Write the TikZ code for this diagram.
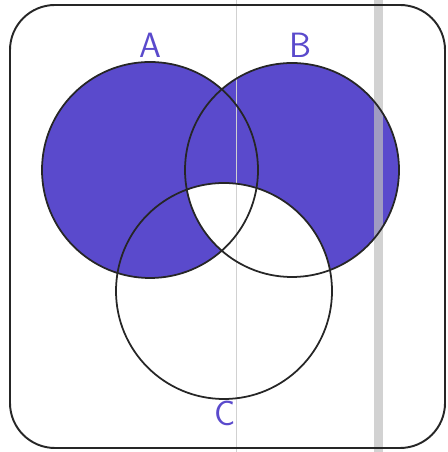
\documentclass[tikz,border=0pt]{standalone}
\usepackage{xcolor}
\usepackage{tikz}
\usetikzlibrary{positioning}

\definecolor{marker}{RGB}{90,74,204}

\begin{document}
\begin{tikzpicture}[x=0.02cm, y=0.02cm,
    setline/.style={black!85, line width=1pt},
    setlabel/.style={text=marker, font=\fontsize{20}{24}\selectfont\sffamily},
    paperline/.style={black!18, line width=0.5pt}]
  \useasboundingbox (0,0) rectangle (447,452);

  % Shading: A and B, without the part of B inside C
  \fill[marker] (150,282) circle (108);
  \fill[marker] (292,282) circle (107);
  \begin{scope}
    \clip (292,282) circle (107);
    \fill[white] (224,161) circle (108);
  \end{scope}

  % Paper marks
  \draw[paperline] (236,0) -- (236,452);
  \fill[black!25, opacity=0.7] (374,0) rectangle (383,452);

  % Universe
  \draw[black!85, line width=1.1pt, rounded corners=0.9cm] (10,4) rectangle (445,447);

  % Circles
  \draw[setline] (150,282) circle (108);
  \draw[setline] (292,282) circle (107);
  \draw[setline] (224,161) circle (108);

  % Labels
  \node[setlabel] (labA) at (150,407) {A};
  \node[setlabel] (labB) at (300,407) {B};
  \node[setlabel] (labC) at (225,39) {C};
\end{tikzpicture}
\end{document}
